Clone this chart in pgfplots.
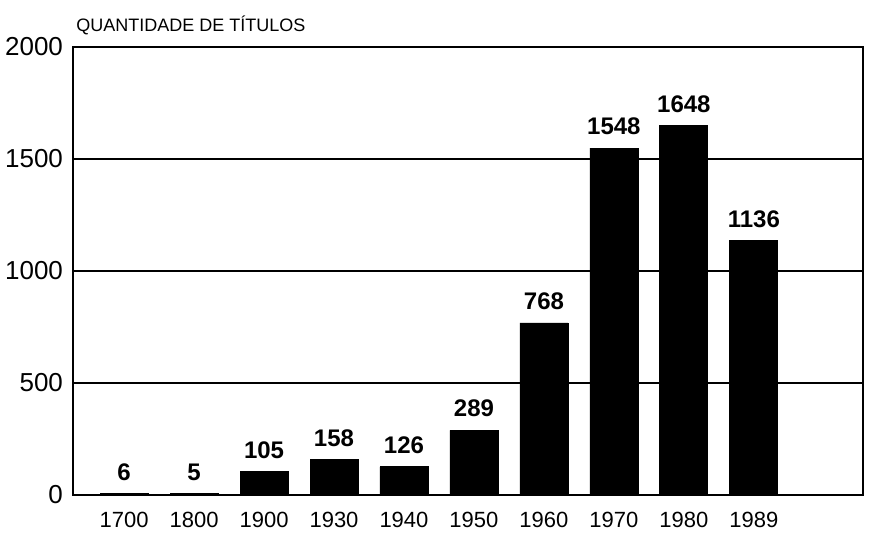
\documentclass[border=0pt]{standalone}
\usepackage{fontspec}
\setmainfont{Liberation Sans}
\usepackage{pgfplots}
\pgfplotsset{compat=1.18}
\begin{document}
\begin{tikzpicture}
\useasboundingbox (0,0) rectangle (435pt,266.5pt);
\begin{axis}[
  at={(36.5pt,19pt)}, anchor=south west,
  width=395pt, height=224pt, scale only axis,
  xmin=-0.73, xmax=10.56, ymin=0, ymax=2000,
  ytick={0,500,1000,1500,2000},
  xtick=data,
  xticklabels={1700,1800,1900,1930,1940,1950,1960,1970,1980,1989},
  major tick length=0pt,
  ymajorgrids, grid style={black, line width=0.7pt},
  axis line style={black, line width=0.8pt},
  /pgf/number format/assume math mode=true,
  /pgf/number format/1000 sep={},
  yticklabel style={font=\fontsize{13}{15}\selectfont, xshift=-1.5pt},
  xticklabel style={font=\fontsize{11}{13}\selectfont, yshift=-5pt},
  nodes near coords,
  every node near coord/.append style={font=\bfseries\fontsize{12}{14}\selectfont, yshift=3pt},
]
\addplot[ybar, bar width=24pt, fill=black, draw=black] coordinates {
  (0,6) (1,5) (2,105) (3,158) (4,126) (5,289) (6,768) (7,1548) (8,1648) (9,1136)
};
\end{axis}
\node at (95.5pt,254pt) {\fontsize{9}{11}\selectfont QUANTIDADE DE TÍTULOS};
\end{tikzpicture}
\end{document}
